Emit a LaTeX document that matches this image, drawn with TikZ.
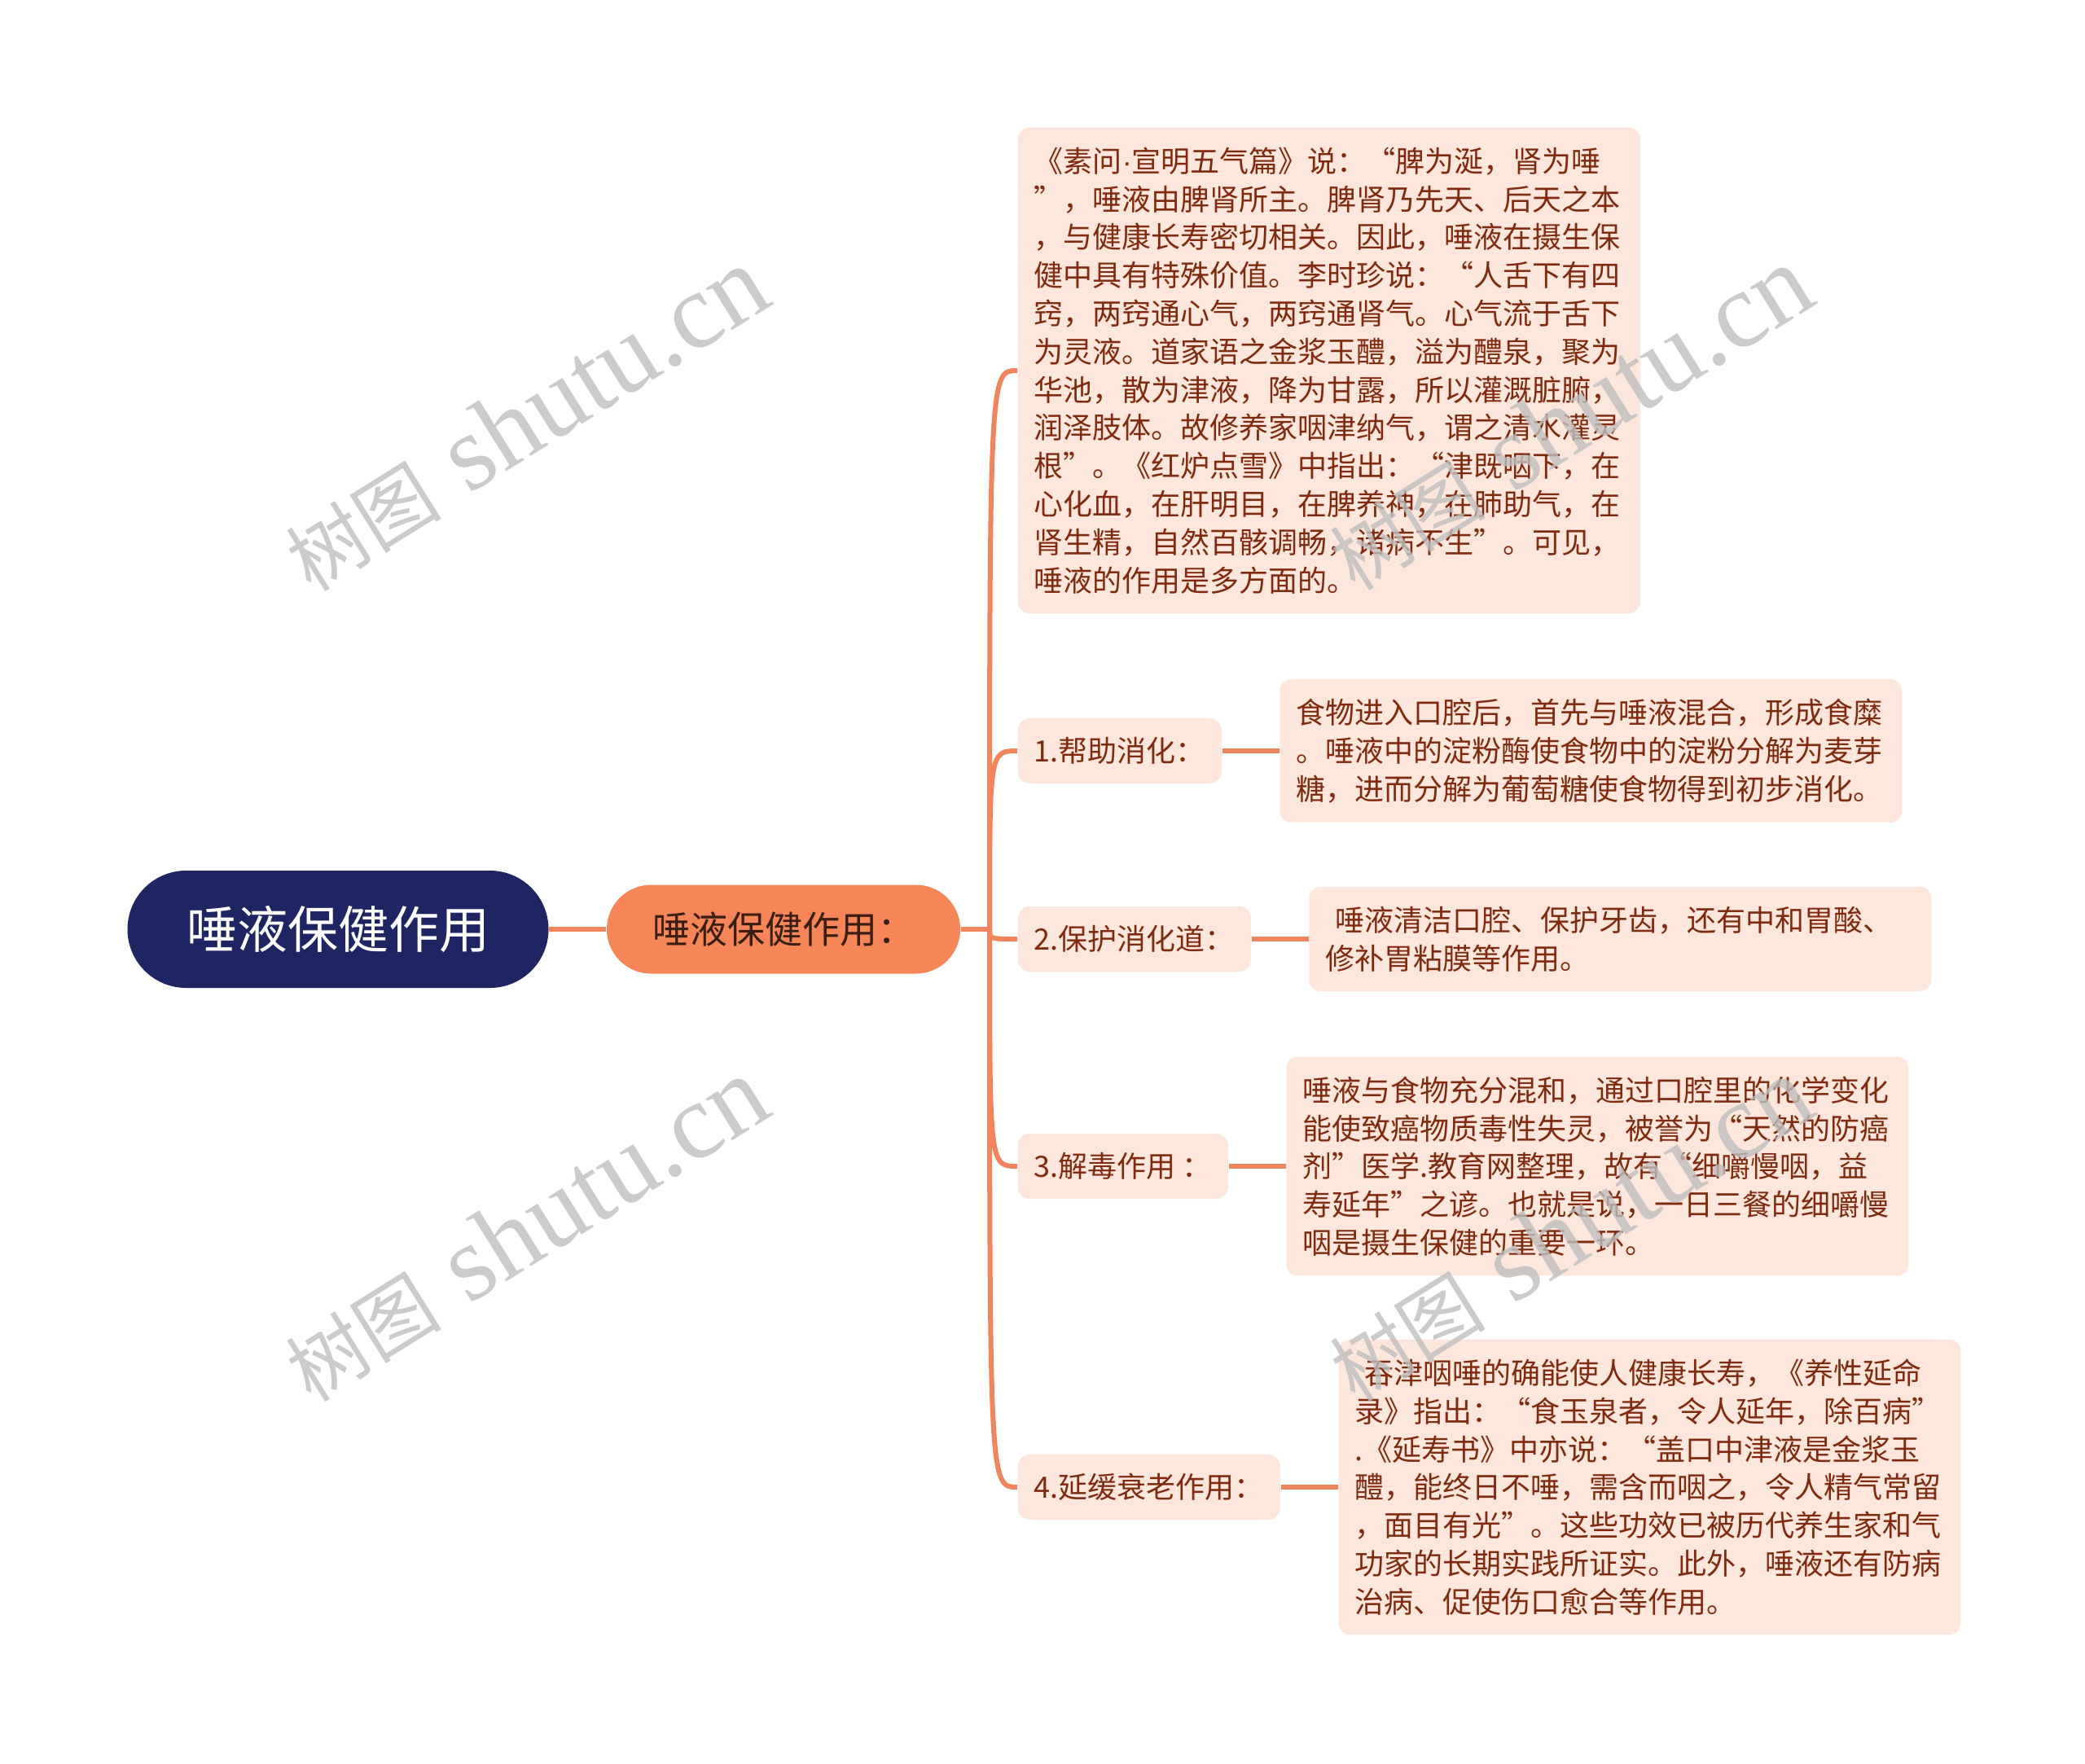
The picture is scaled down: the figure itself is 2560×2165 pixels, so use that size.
\documentclass[tikz,border=0pt]{standalone}
\usepackage{fontspec}
\setmainfont{Noto Sans CJK SC}
\newfontfamily\wmcjk{Noto Sans CJK SC}
\newfontfamily\wmlatin{Liberation Serif}
\newfontfamily\dotfont{Liberation Sans}
\usetikzlibrary{positioning}

\definecolor{rootblue}{HTML}{1F2563}
\definecolor{suborange}{HTML}{F68558}
\definecolor{leafpink}{HTML}{FDE6DC}
\definecolor{leaftext}{HTML}{7F2A0E}
\definecolor{subtext}{HTML}{3B1E12}
\definecolor{linkorange}{HTML}{F0845C}

\begin{document}
\begin{tikzpicture}[x=0.25pt, y=-0.25pt,
  rootbox/.style={fill=rootblue, text=white, rounded corners=18pt, minimum width=129.25pt, minimum height=36pt, font=\fontsize{15.5pt}{18pt}\selectfont},
  subbox/.style={fill=suborange, text=subtext, rounded corners=13.6pt, minimum width=108.5pt, minimum height=27.25pt, font=\fontsize{11.5pt}{13pt}\selectfont},
  tagbox/.style={fill=leafpink, text=leaftext, rounded corners=3.5pt, minimum height=20pt, inner xsep=5pt, font=\fontsize{9pt}{11.7pt}\selectfont},
  notebox/.style={fill=leafpink, text=leaftext, rounded corners=3.5pt, text width=181pt, align=left, inner xsep=5pt, inner ysep=6pt, font=\fontsize{9pt}{11.7pt}\selectfont},
  link/.style={draw=linkorange, line width=1.5pt},
  wmtext/.style={rotate=32, text=black!25, text opacity=0.8}
]
\useasboundingbox (0,0) rectangle (2560,2165);
\fill[white] (0,0) rectangle (2560,2165);

% Root and main topic
\node[rootbox] (root) at (415,1141) {唾液保健作用};
\node[subbox] (sub) at (962,1141) {唾液保健作用：};
\coordinate (hub) at (1215,1141);

% Introduction text
\node[notebox, anchor=west] (intro) at (1249,455) {《素问{\dotfont ·}宣明五气篇》说：“脾为涎，肾为唾\\
”，唾液由脾肾所主。脾肾乃先天、后天之本\\
，与健康长寿密切相关。因此，唾液在摄生保\\
健中具有特殊价值。李时珍说：“人舌下有四\\
窍，两窍通心气，两窍通肾气。心气流于舌下\\
为灵液。道家语之金浆玉醴，溢为醴泉，聚为\\
华池，散为津液，降为甘露，所以灌溉脏腑，\\
润泽肢体。故修养家咽津纳气，谓之清水灌灵\\
根”。《红炉点雪》中指出：“津既咽下，在\\
心化血，在肝明目，在脾养神，在肺助气，在\\
肾生精，自然百骸调畅，诸病不生”。可见，\\
唾液的作用是多方面的。};

% Functions
\node[tagbox, anchor=west] (tag1) at (1249,922) {1.帮助消化：};
\node[notebox, right=17.5pt of tag1] (note1) {食物进入口腔后，首先与唾液混合，形成食糜\\
。唾液中的淀粉酶使食物中的淀粉分解为麦芽\\
糖，进而分解为葡萄糖使食物得到初步消化。};

\node[tagbox, anchor=west] (tag2) at (1249,1153) {2.保护消化道：};
\node[notebox, right=17.5pt of tag2] (note2) {\hspace*{3pt}唾液清洁口腔、保护牙齿，还有中和胃酸、\\
修补胃粘膜等作用。};

\node[tagbox, anchor=west] (tag3) at (1249,1432) {3.解毒作用 ：};
\node[notebox, right=17.5pt of tag3] (note3) {唾液与食物充分混和，通过口腔里的化学变化\\
能使致癌物质毒性失灵，被誉为“天然的防癌\\
剂”医学.教育网整理，故有“细嚼慢咽，益\\
寿延年”之谚。也就是说，一日三餐的细嚼慢\\
咽是摄生保健的重要一环。};

\node[tagbox, anchor=west] (tag4) at (1249,1826) {4.延缓衰老作用：};
\node[notebox, right=17.5pt of tag4] (note4) {\hspace*{3pt}吞津咽唾的确能使人健康长寿，《养性延命\\
录》指出：“食玉泉者，令人延年，除百病”\\
.《延寿书》中亦说：“盖口中津液是金浆玉\\
醴，能终日不唾，需含而咽之，令人精气常留\\
，面目有光”。这些功效已被历代养生家和气\\
功家的长期实践所证实。此外，唾液还有防病\\
治病、促使伤口愈合等作用。};

% Connectors
\draw[link] (root.east) -- (sub.west);
\draw[link] (sub.east) -- (hub);
\foreach \t in {intro,tag1,tag2,tag3,tag4}
  \draw[link] (hub) .. controls (hub |- \t.west) and (hub |- \t.west) .. (\t.west);
\foreach \i in {1,2,3,4}
  \draw[link] (tag\i.east) -- (note\i.west);

% Watermarks
\foreach \wx/\wy [count=\i] in {645/515, 645/1510, 1927/514, 1927/1510}
  \node[wmtext] (wm\i) at (\wx,\wy) {{\wmcjk\fontsize{24pt}{24pt}\selectfont 树图}\hspace{9pt}{\wmlatin\fontsize{33pt}{33pt}\selectfont shutu.cn}};
\end{tikzpicture}
\end{document}
